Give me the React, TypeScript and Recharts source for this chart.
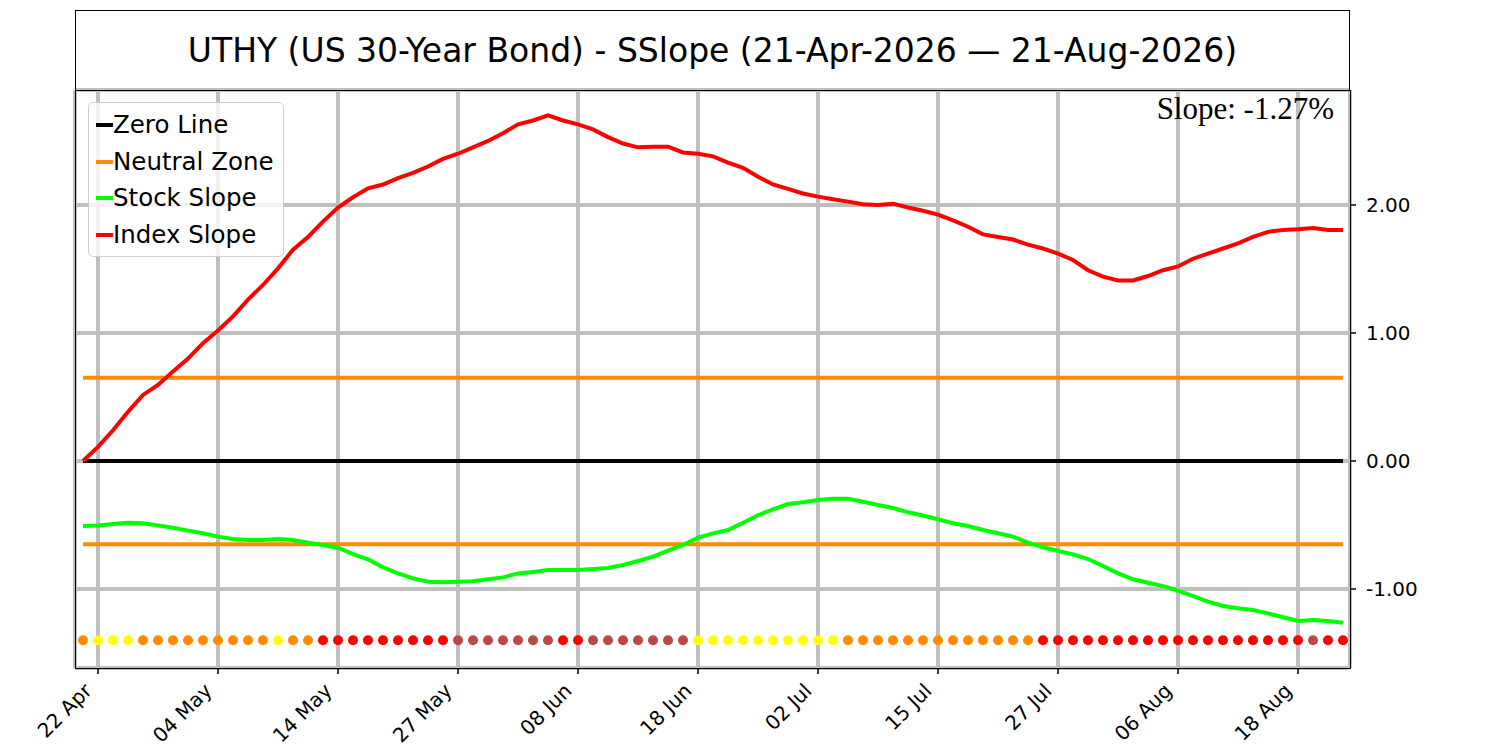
import { CartesianGrid, ComposedChart, Legend, Line, Scatter, XAxis, YAxis } from "recharts";

// trading days, 21-Apr-2026 .. 21-Aug-2026
const DATES = [
  "21 Apr", "22 Apr", "23 Apr", "24 Apr", "27 Apr", "28 Apr", "29 Apr", "30 Apr", "01 May", "04 May",
  "05 May", "06 May", "07 May", "08 May", "11 May", "12 May", "13 May", "14 May", "15 May", "18 May",
  "19 May", "20 May", "21 May", "22 May", "26 May", "27 May", "28 May", "29 May", "01 Jun", "02 Jun",
  "03 Jun", "04 Jun", "05 Jun", "08 Jun", "09 Jun", "10 Jun", "11 Jun", "12 Jun", "15 Jun", "16 Jun",
  "17 Jun", "18 Jun", "23 Jun", "24 Jun", "25 Jun", "26 Jun", "29 Jun", "30 Jun", "01 Jul", "02 Jul",
  "06 Jul", "07 Jul", "08 Jul", "09 Jul", "10 Jul", "13 Jul", "14 Jul", "15 Jul", "16 Jul", "17 Jul",
  "20 Jul", "21 Jul", "22 Jul", "23 Jul", "24 Jul", "27 Jul", "28 Jul", "29 Jul", "30 Jul", "31 Jul",
  "03 Aug", "04 Aug", "05 Aug", "06 Aug", "07 Aug", "10 Aug", "11 Aug", "12 Aug", "13 Aug", "14 Aug",
  "17 Aug", "18 Aug", "19 Aug", "20 Aug", "21 Aug",
];

const INDEX_SLOPE = [
  0.0, 0.11, 0.24, 0.385, 0.516, 0.594, 0.7, 0.8, 0.92, 1.02,
  1.13, 1.26, 1.375, 1.505, 1.65, 1.75, 1.87, 1.98, 2.06, 2.13,
  2.16, 2.21, 2.25, 2.3, 2.36, 2.4, 2.45, 2.5, 2.56, 2.63,
  2.66, 2.7, 2.66, 2.63, 2.59, 2.53, 2.48, 2.45, 2.455, 2.455,
  2.41, 2.4, 2.38, 2.33, 2.29, 2.22, 2.16, 2.125, 2.09, 2.065,
  2.045, 2.026, 2.005, 2.0, 2.01, 1.98, 1.955, 1.925, 1.88, 1.83,
  1.77, 1.75, 1.73, 1.69, 1.66, 1.62, 1.57, 1.49, 1.44, 1.41,
  1.41, 1.445, 1.49, 1.52, 1.58, 1.62, 1.66, 1.7, 1.75, 1.79,
  1.805, 1.81, 1.82, 1.805, 1.805,
];

const STOCK_SLOPE = [
  -0.508, -0.503, -0.492, -0.482, -0.487, -0.503, -0.521, -0.544, -0.565, -0.591,
  -0.609, -0.617, -0.617, -0.609, -0.617, -0.638, -0.656, -0.677, -0.727, -0.768,
  -0.831, -0.878, -0.917, -0.943, -0.948, -0.943, -0.94, -0.924, -0.909, -0.878,
  -0.867, -0.852, -0.852, -0.852, -0.844, -0.836, -0.8125, -0.781, -0.747, -0.7,
  -0.656, -0.599, -0.565, -0.539, -0.482, -0.424, -0.378, -0.336, -0.323, -0.305,
  -0.294, -0.294, -0.318, -0.344, -0.367, -0.401, -0.426, -0.455, -0.487, -0.508,
  -0.539, -0.565, -0.591, -0.638, -0.674, -0.703, -0.729, -0.766, -0.82, -0.878,
  -0.924, -0.951, -0.977, -1.013, -1.055, -1.099, -1.133, -1.151, -1.164, -1.19,
  -1.221, -1.25, -1.242, -1.25, -1.263,
];

// daily signal state shown as the dot row under the lines
const SIGNALS = [
  "neutral", "caution", "caution", "caution", "neutral", "neutral", "neutral", "neutral", "neutral", "neutral",
  "neutral", "neutral", "neutral", "caution", "neutral", "neutral", "bearish", "bearish", "bearish", "bearish",
  "bearish", "bearish", "bearish", "bearish", "bearish", "divergent", "divergent", "divergent", "divergent", "divergent",
  "divergent", "divergent", "bearish", "bearish", "divergent", "divergent", "divergent", "divergent", "divergent", "divergent",
  "divergent", "caution", "caution", "caution", "caution", "caution", "caution", "caution", "caution", "caution",
  "caution", "neutral", "neutral", "neutral", "neutral", "neutral", "neutral", "neutral", "neutral", "neutral",
  "neutral", "neutral", "neutral", "neutral", "bearish", "bearish", "bearish", "bearish", "bearish", "bearish",
  "bearish", "bearish", "bearish", "bearish", "bearish", "bearish", "bearish", "bearish", "bearish", "bearish",
  "bearish", "bearish", "divergent", "bearish", "bearish",
];

const NEUTRAL_BAND = 0.65;
const SIGNAL_ROW = -1.4;
const X_TICKS = [1, 9, 17, 25, 33, 41, 49, 57, 65, 73, 81];
const Y_TICKS = [-1, 0, 1, 2];

const TITLE = "UTHY (US 30-Year Bond) - SSlope (21-Apr-2026 \u2014 21-Aug-2026)";
const SLOPE_LABEL = "Slope: -1.27%";

const SIGNAL_COLORS: Record<string, string> = {
  neutral: "#ff8c00",
  caution: "#ffff00",
  bearish: "#ff0000",
  divergent: "#b94a48",
};

const LEGEND_ITEMS = [
  { label: "Zero Line", color: "#000000" },
  { label: "Neutral Zone", color: "#ff8c00" },
  { label: "Stock Slope", color: "#00ff00" },
  { label: "Index Slope", color: "#ff0000" },
];

const data = DATES.map((date, i) => ({
  i,
  date,
  index: INDEX_SLOPE[i],
  stock: STOCK_SLOPE[i],
  zero: 0,
  upper: NEUTRAL_BAND,
  lower: -NEUTRAL_BAND,
  signal: SIGNAL_ROW,
}));

const FONT = "'DejaVu Sans', sans-serif";

const DateTick = ({ x, y, payload }: any) => (
  <g transform={`translate(${x - 5},${y + 16})`}>
    <text x={0} y={0} textAnchor="end" transform="rotate(-45)" fontSize={20} fontFamily={FONT} fill="#000">
      {DATES[payload.value]}
    </text>
  </g>
);

const SignalDot = ({ cx, cy, payload }: any) => (
  <circle cx={cx} cy={cy} r={5} fill={SIGNAL_COLORS[SIGNALS[payload.i]]} />
);

const LegendBox = () => (
  <div
    style={{
      border: "1px solid #d0d0d0",
      borderRadius: 5,
      background: "rgba(255,255,255,0.8)",
      padding: "4px 9px 3px 7px",
      fontFamily: FONT,
      fontSize: 24.5,
      lineHeight: "36.5px",
    }}
  >
    {LEGEND_ITEMS.map((item) => (
      <div key={item.label} style={{ display: "flex", alignItems: "center" }}>
        <span style={{ width: 17, height: 4, background: item.color, display: "inline-block" }} />
        <span>{item.label}</span>
      </div>
    ))}
  </div>
);

export default function App() {
  return (
    <div style={{ position: "absolute", left: 0, top: 0, width: 1500, height: 750, background: "#fff" }}>
      <ComposedChart
        width={1500}
        height={750}
        data={data}
        margin={{ top: 90, right: 70, bottom: 12, left: 75 }}
      >
        <CartesianGrid stroke="#bfbfbf" strokeWidth={4} />
        <XAxis
          dataKey="i"
          type="number"
          domain={[-8 / 15, 84 + 7 / 15]}
          allowDataOverflow
          ticks={X_TICKS}
          interval={0}
          height={70}
          axisLine={false}
          tickLine={{ stroke: "#000", strokeWidth: 1.5 }}
          tickSize={6}
          tick={<DateTick />}
        />
        <YAxis
          orientation="right"
          type="number"
          domain={[-1.617, 2.898]}
          allowDataOverflow
          ticks={Y_TICKS}
          width={80}
          axisLine={false}
          tickLine={{ stroke: "#000", strokeWidth: 1.5 }}
          tickSize={6}
          tickMargin={10}
          tickFormatter={(v: number) => v.toFixed(2)}
          tick={{ fill: "#000", fontSize: 20, fontFamily: FONT }}
        />
        <Legend
          layout="vertical"
          align="center"
          verticalAlign="middle"
          wrapperStyle={{ left: 88, top: 102, width: "auto" }}
          content={<LegendBox />}
        />
        <Line dataKey="zero" stroke="#000" strokeWidth={4} dot={false} activeDot={false} type="linear" isAnimationActive={false} />
        <Line dataKey="upper" stroke="#ff8c00" strokeWidth={4} dot={false} activeDot={false} type="linear" isAnimationActive={false} />
        <Line dataKey="lower" stroke="#ff8c00" strokeWidth={4} dot={false} activeDot={false} type="linear" isAnimationActive={false} />
        <Line dataKey="stock" stroke="#00ff00" strokeWidth={4} dot={false} activeDot={false} type="linear" isAnimationActive={false} />
        <Line dataKey="index" stroke="#ff0000" strokeWidth={4} dot={false} activeDot={false} type="linear" isAnimationActive={false} />
        <Scatter dataKey="signal" shape={<SignalDot />} isAnimationActive={false} />
      </ComposedChart>
      <div
        style={{
          position: "absolute",
          left: 75,
          top: 10,
          width: 1275,
          height: 81,
          boxSizing: "border-box",
          border: "1.5px solid #000",
          display: "flex",
          alignItems: "center",
          justifyContent: "center",
          fontFamily: FONT,
          fontSize: 33,
          pointerEvents: "none",
        }}
      >
        {TITLE}
      </div>
      <div
        style={{
          position: "absolute",
          left: 75,
          top: 90,
          width: 1276,
          height: 579,
          boxSizing: "border-box",
          border: "1.5px solid #000",
          pointerEvents: "none",
        }}
      />
      <div
        style={{
          position: "absolute",
          right: 166,
          top: 93,
          fontFamily: "'Liberation Serif', serif",
          fontSize: 31,
          lineHeight: "31px",
          pointerEvents: "none",
        }}
      >
        {SLOPE_LABEL}
      </div>
    </div>
  );
}
